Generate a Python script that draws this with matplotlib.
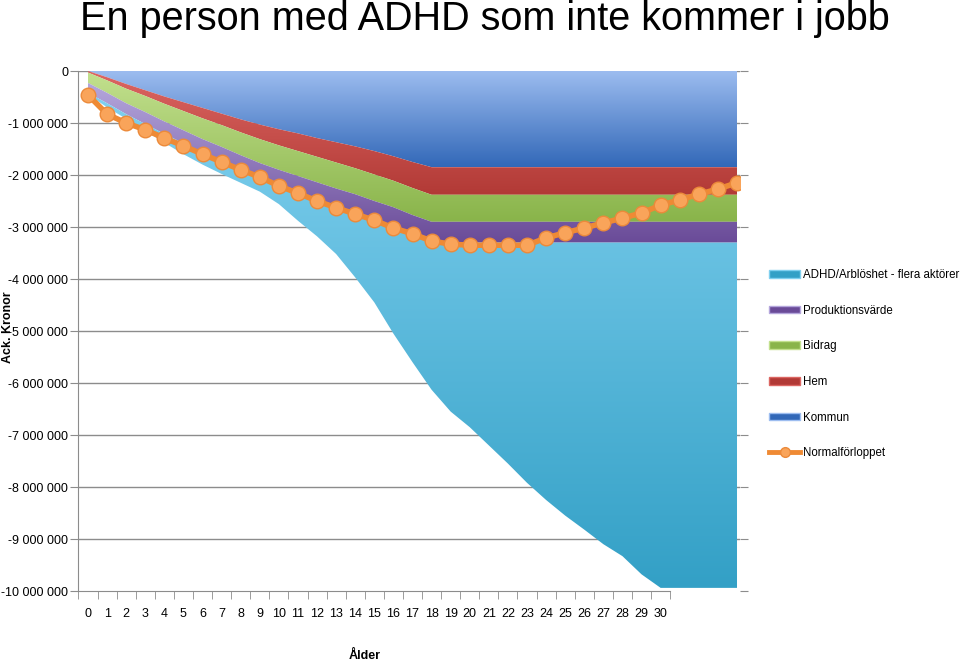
import numpy as np
import matplotlib
matplotlib.use('Agg')
import matplotlib.pyplot as plt
from matplotlib.patches import Polygon, Patch
from matplotlib.lines import Line2D
from matplotlib.colors import LinearSegmentedColormap
from matplotlib.ticker import FuncFormatter, FixedLocator

# Data (miljoner kronor, ackumulerat)
alder = list(range(35))
kommun = [0.00, -0.12, -0.25, -0.37, -0.49, -0.60, -0.71, -0.82, -0.93, -1.03,
          -1.12, -1.20, -1.29, -1.37, -1.45, -1.54, -1.64, -1.75, -1.85] + [-1.85] * 16
hem = [-0.03, -0.06, -0.09, -0.11, -0.14, -0.17, -0.20, -0.22, -0.25, -0.28,
       -0.31, -0.34, -0.36, -0.39, -0.42, -0.45, -0.47, -0.50, -0.53] + [-0.53] * 16
bidrag = [-0.20, -0.24, -0.28, -0.31, -0.34, -0.37, -0.40, -0.42, -0.44, -0.46,
          -0.47, -0.48, -0.49, -0.50, -0.50, -0.51, -0.51, -0.52, -0.52] + [-0.52] * 16
produktion = [-0.19, -0.20, -0.21, -0.23, -0.24, -0.25, -0.26, -0.27, -0.28, -0.29,
              -0.30, -0.31, -0.32, -0.33, -0.35, -0.36, -0.37, -0.38, -0.40] + [-0.40] * 16
adhd = [-0.03, -0.08, -0.09, -0.13, -0.17, -0.21, -0.23, -0.25, -0.25, -0.26,
        -0.36, -0.55, -0.72, -0.93, -1.25, -1.59, -2.06, -2.45, -2.83, -3.25,
        -3.55, -3.90, -4.25, -4.62, -4.95, -5.25, -5.52, -5.80, -6.03, -6.38,
        -6.64, -6.64, -6.64, -6.64, -6.64]
normal = [-0.46, -0.83, -1.00, -1.13, -1.29, -1.44, -1.60, -1.75, -1.90, -2.04,
          -2.21, -2.35, -2.50, -2.63, -2.75, -2.87, -3.02, -3.13, -3.27, -3.33,
          -3.35, -3.35, -3.35, -3.35, -3.21, -3.11, -3.02, -2.92, -2.83, -2.73,
          -2.58, -2.48, -2.37, -2.27, -2.15]

serier = [
    ('Kommun', kommun, '#9dbdf0', '#3268b8'),
    ('Hem', hem, '#dc6662', '#b23a36'),
    ('Bidrag', bidrag, '#c2e08e', '#89b44a'),
    ('Produktionsvärde', produktion, '#b4a6dc', '#6a4b98'),
    ('ADHD/Arblöshet - flera aktörer', adhd, '#80d0ef', '#33a0c6'),
]
legend_order = ['ADHD/Arblöshet - flera aktörer', 'Produktionsvärde', 'Bidrag', 'Hem', 'Kommun']

small_font = ['Liberation Sans', 'DejaVu Sans']


def grad_fill(ax, x, y_top, y_bot, c_top, c_bot, z):
    verts = np.column_stack([np.r_[x, x[::-1]], np.r_[y_top, y_bot[::-1]]])
    poly = Polygon(verts, closed=True, facecolor='none', edgecolor='none')
    ax.add_patch(poly)
    cmap = LinearSegmentedColormap.from_list('g', [c_bot, c_top])
    grad = np.linspace(0, 1, 256).reshape(-1, 1)
    im = ax.imshow(grad, extent=[x.min(), x.max(), y_bot.min(), y_top.max()],
                   origin='lower', cmap=cmap, aspect='auto', zorder=z,
                   interpolation='bilinear')
    im.set_clip_path(poly)


fig = plt.figure(figsize=(9.6, 6.65), dpi=100)
ax = fig.add_axes([78 / 960, 74 / 665, 662 / 960, 520 / 665])

x = np.array(alder, dtype=float)
bas = np.zeros(len(x))
for namn, vals, c1, c2 in serier:
    v = np.array(vals) * 1e6
    grad_fill(ax, x, bas, bas + v, c1, c2, 2)
    bas = bas + v

ax.plot(x, np.array(normal) * 1e6, color='#ef8a34', lw=4, marker='o',
        markersize=10.5, markerfacecolor='#f9a45a', markeredgecolor='#ec8a3a',
        markeredgewidth=1, zorder=4)

ax.set_xlim(-0.524, 34.157)
ax.set_ylim(-10e6, 0)

# y-axel
ax.set_yticks(np.arange(-10e6, 1, 1e6))
ax.yaxis.set_major_formatter(FuncFormatter(lambda v, p: f"{v:,.0f}".replace(',', ' ')))
ax.grid(axis='y', color='#8c8c8c', lw=1, zorder=0)
ax.get_ygridlines()[0].set_visible(False)
ax.set_axisbelow(True)
ax.tick_params(axis='y', length=6, color='#8c8c8c', pad=1, labelsize=9,
               right=True)
for lab in ax.get_yticklabels():
    lab.set_family(small_font)

# x-axel
ax.set_xticks(range(31))
ax.set_xticklabels([str(a) for a in range(31)], family=small_font)
ax.xaxis.set_minor_locator(FixedLocator(np.arange(-0.5, 31, 1)))
ax.tick_params(axis='x', which='major', length=0, pad=12, labelsize=9)
ax.tick_params(axis='x', which='minor', length=6, color='#8c8c8c')

for s in ['top', 'right']:
    ax.spines[s].set_visible(False)
ax.spines['left'].set_color('#8c8c8c')
ax.spines['bottom'].set_color('#8c8c8c')
ax.spines['bottom'].set_bounds(-0.524, 30.5)

ax.set_xlabel('Ålder', fontweight='bold', fontsize=9, family=small_font)
ax.xaxis.set_label_coords((365 - 78) / 662, (591 - 650) / 520)
ax.set_ylabel('Ack. Kronor', fontweight='bold', fontsize=9, family=small_font)
ax.yaxis.set_label_coords((14 - 78) / 662, (591 - 327) / 520)

fig.text(80 / 960, 1 - 0 / 665, 'En person med ADHD som inte kommer i jobb',
         fontsize=28.5, va='top', ha='left', family=['Liberation Sans', 'DejaVu Sans'])

# legend
farg = {namn: (c1, c2) for namn, vals, c1, c2 in serier}
handles = []
for namn in legend_order:
    c1, c2 = farg[namn]
    handles.append(Patch(facecolor=c2, edgecolor=c1, lw=1))
handles.append(Line2D([0], [0], color='#ef8a34', lw=3.5, marker='o', markersize=7,
                      markerfacecolor='#f9a45a', markeredgecolor='#ec8a3a'))
labels = legend_order + ['Normalförloppet']
fig.legend(handles, labels, loc='upper left', bbox_to_anchor=(769 / 960, 1 - 269 / 665),
           frameon=False, prop={'family': small_font, 'size': 8.3}, labelspacing=2.05,
           handlelength=2.7, handleheight=0.65, handletextpad=0.25, borderaxespad=0,
           borderpad=0)

fig.savefig('out.png', dpi=100)
